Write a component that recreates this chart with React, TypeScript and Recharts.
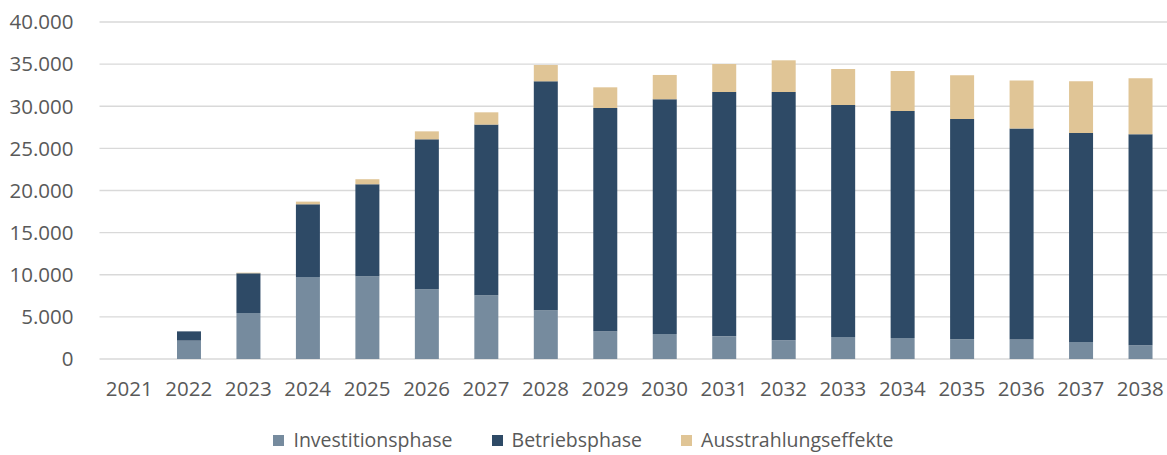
import React from 'react';
import { BarChart, Bar, XAxis, YAxis, CartesianGrid, Legend } from 'recharts';

const years = ['2021','2022','2023','2024','2025','2026','2027','2028','2029','2030','2031','2032','2033','2034','2035','2036','2037','2038'];
const investition = [0, 2180, 5460, 9730, 9820, 8270, 7560, 5780, 3250, 2970, 2690, 2220, 2610, 2490, 2340, 2300, 2020, 1630];
const betrieb = [0, 1100, 4710, 8630, 10920, 17800, 20260, 27180, 26540, 27860, 29000, 29470, 27540, 26940, 26150, 25045, 24810, 25040];
const ausstrahlung = [0, 0, 80, 320, 600, 950, 1460, 1935, 2457, 2884, 3324, 3763, 4273, 4748, 5187, 5700, 6136, 6650];
const yTicks = [0, 5000, 10000, 15000, 20000, 25000, 30000, 35000, 40000];

const seriesNames = ['Investitionsphase', 'Betriebsphase', 'Ausstrahlungseffekte'];
const colors = ['#768B9E', '#2E4A66', '#E0C596'];

const data = years.map((y, i) => ({
  year: y,
  inv: investition[i],
  bet: betrieb[i],
  aus: ausstrahlung[i],
}));

const fmt = (v: number) => String(v).replace(/\B(?=(\d{3})+(?!\d))/g, '.');

const font = '"Open Sans", sans-serif';

const LegendContent = () => (
  <div style={{ display: 'flex', justifyContent: 'center', alignItems: 'center', fontFamily: font, fontSize: 19.5, lineHeight: '28px', height: 28, color: '#595959' }}>
    {seriesNames.map((n, i) => (
      <div key={n} style={{ display: 'flex', alignItems: 'center', marginRight: i < 2 ? 39 : 0 }}>
        <div style={{ width: 11, height: 11, background: colors[i], marginRight: 9 }} />
        <span>{n}</span>
      </div>
    ))}
  </div>
);

export default function App() {
  return (
    <div style={{ position: 'absolute', left: 0, top: 0, width: 1167, height: 455, overflow: 'hidden', background: '#fff' }}>
      <BarChart width={1170} height={455} data={data} margin={{ top: 22, right: 0, left: 0, bottom: 38 }} barSize={24}>
        <CartesianGrid vertical={false} stroke="#D9D9D9" strokeWidth={1.3} />
        <XAxis dataKey="year" height={30} axisLine={false} tickLine={false} tick={{ fill: '#595959', fontSize: 20.5, fontFamily: font }} tickMargin={16} interval={0} />
        <YAxis width={99.5} domain={[0, 40000]} ticks={yTicks} tickFormatter={fmt} axisLine={false} tickLine={false} tick={{ fill: '#595959', fontSize: 20.5, fontFamily: font }} tickMargin={20} interval={0} />
        <Legend verticalAlign="bottom" content={<LegendContent />} wrapperStyle={{ bottom: 1, left: 0, width: 1167 }} />
        <Bar dataKey="inv" name={seriesNames[0]} stackId="a" fill={colors[0]} isAnimationActive={false} />
        <Bar dataKey="bet" name={seriesNames[1]} stackId="a" fill={colors[1]} isAnimationActive={false} />
        <Bar dataKey="aus" name={seriesNames[2]} stackId="a" fill={colors[2]} isAnimationActive={false} />
      </BarChart>
    </div>
  );
}
